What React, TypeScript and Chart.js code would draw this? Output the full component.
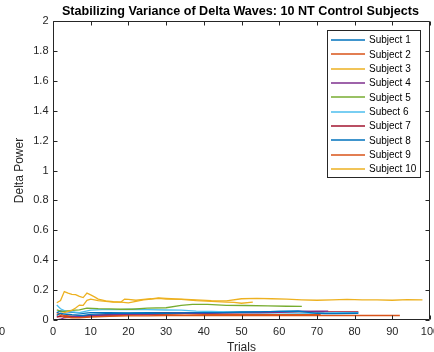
import React, { useEffect, useRef } from "react";
import { Chart, registerables } from "chart.js";

Chart.register(...registerables);

const chartTitle = "Stabilizing Variance of Delta Waves: 10 NT Control Subjects";
const xAxisTitle = "Trials";
const yAxisTitle = "Delta Power";
const xTicks = [0, 10, 20, 30, 40, 50, 60, 70, 80, 90, 100];
const yTicks = [0, 0.2, 0.4, 0.6, 0.8, 1, 1.2, 1.4, 1.6, 1.8, 2];
const yTickLabels = ["0", "0.2", "0.4", "0.6", "0.8", "1", "1.2", "1.4", "1.6", "1.8", "2"];

const subjectLabels = [
  "Subject 1", "Subject 2", "Subject 3", "Subject 4", "Subject 5",
  "Subect 6", "Subject 7", "Subject 8", "Subject 9", "Subject 10",
];
const subjectColors = [
  "#0072BD", "#D95319", "#EDB120", "#7E2F8E", "#77AC30",
  "#4DBEEE", "#A2142F", "#0072BD", "#D95319", "#EDB120",
];

const s1Trials = [1, 2, 3, 5, 8, 10, 14, 18, 22, 26, 30, 35, 40, 45, 50, 55, 60, 65, 70, 72, 75, 81];
const s1Values = [0.03, 0.045, 0.04, 0.035, 0.03, 0.038, 0.042, 0.044, 0.046, 0.044, 0.045, 0.048, 0.05, 0.05, 0.052, 0.055, 0.058, 0.06, 0.045, 0.042, 0.042, 0.045];

const s2Trials = [1, 2, 3, 5, 7, 10, 15, 20, 25, 30, 40, 50, 60, 70, 80, 92];
const s2Values = [0.04, 0.03, 0.02, 0.015, 0.015, 0.02, 0.025, 0.028, 0.028, 0.03, 0.03, 0.03, 0.03, 0.03, 0.03, 0.03];

const s3Trials = [2, 3, 4, 5, 6, 7, 8, 9, 10, 12, 14, 16, 18, 20, 22, 24, 26, 28, 30, 34, 38, 42, 46, 48, 50, 53];
const s3Values = [0.045, 0.05, 0.058, 0.065, 0.08, 0.1, 0.098, 0.132, 0.14, 0.13, 0.125, 0.12, 0.12, 0.115, 0.125, 0.135, 0.14, 0.145, 0.14, 0.138, 0.13, 0.125, 0.12, 0.118, 0.112, 0.12];

const s4Trials = [1, 2, 3, 5, 8, 12, 16, 20, 25, 30, 35, 40, 45, 50, 55, 60, 65, 70, 73];
const s4Values = [0.0, 0.005, 0.015, 0.02, 0.025, 0.03, 0.035, 0.04, 0.04, 0.042, 0.045, 0.045, 0.048, 0.05, 0.05, 0.052, 0.058, 0.06, 0.06];

const s5Trials = [1, 2, 3, 5, 7, 9, 12, 15, 18, 21, 25, 30, 34, 37, 41, 46, 51, 57, 62, 66];
const s5Values = [0.068, 0.06, 0.058, 0.065, 0.068, 0.08, 0.076, 0.074, 0.072, 0.072, 0.08, 0.082, 0.098, 0.105, 0.104, 0.098, 0.097, 0.095, 0.092, 0.091];

const s6Trials = [1, 2, 3, 5, 7, 10, 13, 17, 21, 25, 30, 34, 38, 42, 46, 50, 55, 60, 65, 70, 75, 81];
const s6Values = [0.1, 0.075, 0.063, 0.055, 0.05, 0.066, 0.07, 0.07, 0.072, 0.07, 0.067, 0.066, 0.06, 0.057, 0.055, 0.05, 0.048, 0.048, 0.046, 0.045, 0.05, 0.05];

const s7Trials = [1, 2, 4, 6, 10, 15, 20, 25, 30, 35, 40, 45, 50, 55, 60, 65, 70, 75, 81];
const s7Values = [0.02, 0.025, 0.02, 0.022, 0.03, 0.035, 0.04, 0.042, 0.045, 0.045, 0.045, 0.048, 0.05, 0.05, 0.052, 0.055, 0.055, 0.055, 0.055];

const s8Trials = [1, 2, 4, 6, 8, 10, 15, 20, 25, 30, 35, 40, 45, 50, 55, 60, 65, 70, 72];
const s8Values = [0.05, 0.06, 0.055, 0.05, 0.045, 0.05, 0.05, 0.048, 0.05, 0.05, 0.048, 0.05, 0.052, 0.055, 0.055, 0.058, 0.06, 0.055, 0.055];

const s9Trials = [1, 2, 3, 5, 8, 12, 16, 20, 25, 30, 35, 40, 45, 50, 55, 60, 65, 71];
const s9Values = [0.05, 0.04, 0.03, 0.025, 0.025, 0.03, 0.03, 0.032, 0.035, 0.035, 0.033, 0.035, 0.035, 0.038, 0.036, 0.035, 0.035, 0.035];

const s10Trials = [1, 2, 3, 4, 5, 6, 7, 8, 9, 10, 11, 12, 14, 16, 18, 19, 20, 22, 24, 26, 28, 30, 34, 38, 42, 46, 50, 54, 58, 62, 66, 70, 74, 78, 82, 86, 90, 94, 98];
const s10Values = [0.115, 0.13, 0.19, 0.18, 0.172, 0.17, 0.158, 0.15, 0.18, 0.168, 0.155, 0.14, 0.128, 0.122, 0.12, 0.14, 0.138, 0.132, 0.138, 0.142, 0.148, 0.145, 0.14, 0.135, 0.13, 0.128, 0.142, 0.145, 0.142, 0.14, 0.135, 0.132, 0.135, 0.138, 0.135, 0.135, 0.132, 0.136, 0.135];

const allTrials = [s1Trials, s2Trials, s3Trials, s4Trials, s5Trials, s6Trials, s7Trials, s8Trials, s9Trials, s10Trials];
const allValues = [s1Values, s2Values, s3Values, s4Values, s5Values, s6Values, s7Values, s8Values, s9Values, s10Values];

const AXIS_COLOR = "#262626";
const FONT = "'Liberation Sans', Arial, Helvetica, sans-serif";

const matlabAxesPlugin = {
  id: "matlabAxes",
  afterDraw(chart: any) {
    const ctx: CanvasRenderingContext2D = chart.ctx;
    const { left, right, top, bottom } = chart.chartArea;
    const xs = chart.scales.x;
    const ys = chart.scales.y;
    const W = chart.width;
    ctx.save();
    ctx.strokeStyle = AXIS_COLOR;
    ctx.lineWidth = 1;
    const L = Math.round(left) + 0.5;
    const R = Math.round(right) - 0.5;
    const T = Math.round(top) + 0.5;
    const B = Math.round(bottom) - 0.5;
    ctx.beginPath();
    ctx.rect(L, T, R - L, B - T);
    ctx.stroke();
    const tl = 4;
    ctx.beginPath();
    xTicks.forEach((v) => {
      const px = Math.round(xs.getPixelForValue(v)) + 0.5;
      ctx.moveTo(px, B);
      ctx.lineTo(px, B - tl);
      ctx.moveTo(px, T);
      ctx.lineTo(px, T + tl);
    });
    yTicks.forEach((v) => {
      const py = Math.round(ys.getPixelForValue(v)) + 0.5;
      ctx.moveTo(L, py);
      ctx.lineTo(L + tl, py);
      ctx.moveTo(R, py);
      ctx.lineTo(R - tl, py);
    });
    ctx.stroke();

    ctx.fillStyle = AXIS_COLOR;
    ctx.font = `11px ${FONT}`;
    ctx.textAlign = "center";
    ctx.textBaseline = "middle";
    xTicks.forEach((v) => {
      const px = xs.getPixelForValue(v);
      ctx.fillText(String(v), px, B + 12);
      if (px + 10 > W) ctx.fillText(String(v), px - W, B + 12);
    });
    ctx.textAlign = "right";
    yTicks.forEach((v, i) => {
      const py = ys.getPixelForValue(v);
      ctx.fillText(yTickLabels[i], L - 5, py);
    });

    ctx.font = `12px ${FONT}`;
    ctx.textAlign = "center";
    ctx.fillText(xAxisTitle, (left + right) / 2, bottom + 28);
    ctx.save();
    ctx.translate(20, (top + bottom) / 2);
    ctx.rotate(-Math.PI / 2);
    ctx.fillText(yAxisTitle, 0, 0);
    ctx.restore();

    ctx.font = `bold 12.6px ${FONT}`;
    ctx.fillStyle = "#000";
    ctx.fillText(chartTitle, (left + right) / 2 - 1, 12);

    const bx = 327.5, by = 30.5, bw = 93, bh = 147;
    ctx.fillStyle = "#fff";
    ctx.fillRect(bx, by, bw, bh);
    ctx.strokeStyle = AXIS_COLOR;
    ctx.lineWidth = 1;
    ctx.strokeRect(bx, by, bw, bh);
    ctx.font = `10px ${FONT}`;
    ctx.textAlign = "left";
    chart.data.datasets.forEach((ds: any, i: number) => {
      const cy = 40 + i * 14.33;
      ctx.strokeStyle = ds.borderColor;
      ctx.lineWidth = 1.5;
      ctx.beginPath();
      ctx.moveTo(331, Math.round(cy));
      ctx.lineTo(365, Math.round(cy));
      ctx.stroke();
      ctx.fillStyle = "#000";
      ctx.fillText(ds.label, 369, cy + 0.5);
    });
    ctx.restore();
  },
};

export default function App() {
  const ref = useRef<HTMLCanvasElement | null>(null);
  useEffect(() => {
    document.body.style.margin = "0";
    if (!ref.current) return;
    const datasets = subjectLabels.map((label, i) => ({
      label,
      data: allTrials[i].map((t, j) => ({ x: t, y: allValues[i][j] })),
      borderColor: subjectColors[i],
      backgroundColor: subjectColors[i],
      borderWidth: 1.3,
      pointRadius: 0,
      fill: false,
      tension: 0,
    }));
    const chart = new Chart(ref.current, {
      type: "line",
      data: { datasets },
      options: {
        animation: false,
        responsive: false,
        devicePixelRatio: 1,
        layout: { padding: { left: 53, top: 21, right: 4, bottom: 32 } },
        plugins: { legend: { display: false }, title: { display: false }, tooltip: { enabled: false } },
        scales: {
          x: { type: "linear", display: false, min: 0, max: 100 },
          y: { type: "linear", display: false, min: 0, max: 2 },
        },
      },
      plugins: [matlabAxesPlugin],
    });
    return () => chart.destroy();
  }, []);
  return (
    <div style={{ width: 434, height: 352, background: "#fff" }}>
      <canvas ref={ref} width={434} height={352} style={{ display: "block" }} />
    </div>
  );
}
